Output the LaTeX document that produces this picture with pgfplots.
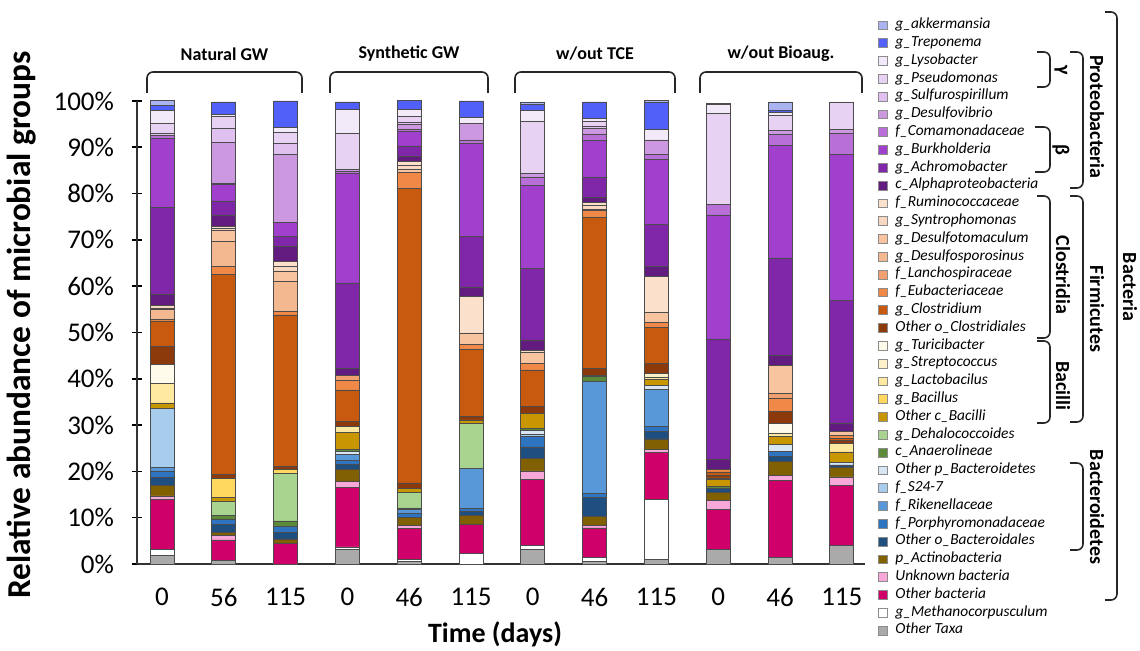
\documentclass[border=0pt]{standalone}
\usepackage{pgfplots}
\usepackage{pgfplotstable}
\usepackage{fontspec}
\setmainfont{Carlito}
\pgfplotsset{compat=1.18}

\definecolor{cAkk}{HTML}{AAB4F0}
\definecolor{cTre}{HTML}{5060F8}
\definecolor{cLys}{HTML}{F3EAF9}
\definecolor{cPse}{HTML}{E8D2F3}
\definecolor{cSul}{HTML}{E0C0EE}
\definecolor{cDvb}{HTML}{CC99E0}
\definecolor{cCom}{HTML}{B870D8}
\definecolor{cBur}{HTML}{A040CC}
\definecolor{cAch}{HTML}{8026A8}
\definecolor{cAlp}{HTML}{621C80}
\definecolor{cRum}{HTML}{FBE0CC}
\definecolor{cSyn}{HTML}{F8D8C0}
\definecolor{cDtm}{HTML}{F8C4A0}
\definecolor{cDsp}{HTML}{F4B890}
\definecolor{cLan}{HTML}{F0A070}
\definecolor{cEub}{HTML}{F08848}
\definecolor{cClo}{HTML}{C85A10}
\definecolor{cOCl}{HTML}{8C3A0C}
\definecolor{cTur}{HTML}{FFFBEA}
\definecolor{cStr}{HTML}{FDF0C8}
\definecolor{cLac}{HTML}{FFE8A0}
\definecolor{cBac}{HTML}{FFD860}
\definecolor{cOBa}{HTML}{C89600}
\definecolor{cDeh}{HTML}{A8D490}
\definecolor{cAna}{HTML}{5A8A3A}
\definecolor{cOBac}{HTML}{D8E6F4}
\definecolor{cS24}{HTML}{A8CCEC}
\definecolor{cRik}{HTML}{5898D8}
\definecolor{cPor}{HTML}{2E74C0}
\definecolor{cOBd}{HTML}{1F4E80}
\definecolor{cAct}{HTML}{806000}
\definecolor{cUB}{HTML}{F8A8D8}
\definecolor{cOB}{HTML}{D0006A}
\definecolor{cMeth}{HTML}{FFFFFF}
\definecolor{cOT}{HTML}{AAAAAA}

\pgfplotstableread{
x OT Meth OB UB Act OBd Por Rik S24 OBac Ana Deh OBa Bac Lac Str Tur OCl Clo Eub Lan Dsp Dtm Syn Rum Alp Ach Bur Com Dvb Sul Pse Lys Tre Akk
0 1.8 1.3 10.9 0.7 2.2 1.8 1.4 0.7 12.8 0 0 0 1.2 0 4.2 0 4.1 3.8 5.6 0.3 0 2.1 0.4 0.5 0 2.4 18.9 14.9 0.5 0 0.5 2.2 2.7 1.2 1.0
1 0.7 0 4.5 0.9 0.7 1.8 1.1 0 0 0 0.7 3.1 0.9 4.1 0 0 0 0.8 43.3 1.6 0 5.4 2.5 0.4 0.4 2.3 3.2 3.6 0.3 8.8 2.9 2.6 0.5 2.7 0
2 0 0 4.5 0 0.9 1.4 1.4 0 0 0 1.1 10.2 0 0.9 0 0 0 0.6 32.8 0.7 0 6.6 2.2 0.9 1.1 3.2 2.2 3.0 0 14.7 2.4 2.5 0.9 5.8 0
3 3.2 0.5 12.8 1.3 2.7 1.0 0.8 1.3 0 0.8 0.4 0 3.6 0 1.3 0 0 1.1 6.8 2.0 1.1 0 0 0 0 1.6 18.4 23.6 0.4 0.5 0 7.9 5.0 1.7 0
4 0.5 0.5 6.7 0.7 1.7 0 0.9 0.7 0 0 0.4 3.4 0.8 0 0 0 0 1.2 63.6 3.4 0 0 0.8 0.8 0.8 1.1 2.3 3.1 0.4 1.2 0.4 1.2 1.5 2.1 0
5 0 2.3 6.3 0 1.8 0.9 0.7 8.6 0 0 0 9.8 0.7 0 0 0 0 0.7 14.5 1.1 0 0 2.5 0 7.9 1.9 11.0 20.2 0.7 3.6 0 0 1.2 3.6 0
6 3.2 0.9 14.2 1.8 2.7 2.5 2.2 0 0.4 0.9 0.4 0 3.4 0 0 0 0 1.4 7.9 1.4 0 0 2.5 0 0.4 2.2 15.5 17.9 1.8 0.8 0 11.1 2.4 1.3 0.6
7 0.6 0.9 6.3 0.6 1.9 4.0 0.9 24.3 0 0 1.0 0 0.3 0 0 0 0 1.4 32.6 1.6 0 0 0.3 0.7 0.7 1.1 4.3 8.0 1.4 1.1 0.6 0.9 0.7 3.6 0
8 0.9 13.0 10.2 0.7 2.2 1.7 1.1 7.9 0 0.9 0 0 1.2 0 0.6 0.7 0 2.2 7.8 1.0 0 0 2.2 0 7.8 2.2 9.1 14.0 1.1 3.1 0 0 2.2 5.8 0.5
9 3.2 0 8.6 1.9 1.8 0.8 0 0 0 0 0.4 0 1.6 0.3 0 0 0 0.6 0.7 0.6 0 0 0 0 0 2.2 25.9 26.8 2.2 0 0 19.7 1.9 0.3 0
10 1.4 0 16.7 1.1 3.0 1.0 1.2 0 0 1.4 0 0 1.8 0 0.7 0 2.0 2.7 0 2.7 1.1 0 6.1 0 0 2.2 21.0 24.3 2.3 0.9 0 3.2 0.7 0.4 1.9
11 4.0 0 13.0 1.8 2.0 0.6 0 0 0 0.6 0 0 2.2 0 1.9 0 0 0.5 0.6 0.6 0 0 0.8 0 0 1.8 26.6 31.4 4.6 0.8 0 6.0 0 0 0
}\data

\begin{document}
\begin{tikzpicture}
\begin{axis}[
  scale only axis,
  width=364pt, height=231.5pt,
  at={(0pt,0pt)}, anchor=south west,
  ybar stacked, bar width=12pt,
  xmin=-0.405, xmax=11.375, ymin=0, ymax=100,
  clip=false,
  axis x line=bottom, axis y line=left,
  axis line style={-, line width=0.9pt, black!80},
  tick align=center,
  major tick length=5pt,
  ytick={0,10,...,100},
  yticklabel={\pgfmathprintnumber{\tick}\%},
  xtick={0,...,11},
  xticklabels={0,56,115,0,46,115,0,46,115,0,46,115},
  xtick style={draw=none},
  ytick style={line width=0.8pt, black},
  /pgf/number format/assume math mode=true,
  yticklabel style={font=\fontsize{13.5}{15}\selectfont, xshift=-5.5pt},
  xticklabel style={font=\fontsize{13.5}{15}\selectfont, yshift=-6pt},
  ylabel={\textbf{Relative abundance of microbial groups}},
  ylabel style={font=\fontsize{16.7}{18}\selectfont, at={(axis description cs:-0.158,0.516)}, anchor=center},
  xlabel={\textbf{Time (days)}},
  xlabel style={font=\fontsize{14}{16}\selectfont, at={(axis description cs:0.4918,-0.151)}, anchor=center},
  legend image code/.code={\draw[#1,draw=black!45,line width=0.3pt] (0pt,-2.2pt) rectangle (4.4pt,2.2pt);},
  reverse legend,
  legend cell align=left,
  legend style={draw=none, fill=none, inner sep=0pt,
    font=\fontsize{7.7}{8.9}\selectfont\itshape,
    at={(axis description cs:1.0179,1.1836)}, anchor=north west,
    row sep=0pt, column sep=3.2pt,
    nodes={inner sep=0.6pt, text height=5.6pt, text depth=2.1pt}},
  every axis plot/.append style={draw=black!70, line width=0.35pt},
]
\addplot[fill=cOT] table[x=x,y=OT]{\data}; \addlegendentry{Other Taxa}
\addplot[fill=cMeth] table[x=x,y=Meth]{\data}; \addlegendentry{g\_Methanocorpusculum}
\addplot[fill=cOB] table[x=x,y=OB]{\data}; \addlegendentry{Other bacteria}
\addplot[fill=cUB] table[x=x,y=UB]{\data}; \addlegendentry{Unknown bacteria}
\addplot[fill=cAct] table[x=x,y=Act]{\data}; \addlegendentry{p\_Actinobacteria}
\addplot[fill=cOBd] table[x=x,y=OBd]{\data}; \addlegendentry{Other o\_Bacteroidales}
\addplot[fill=cPor] table[x=x,y=Por]{\data}; \addlegendentry{f\_Porphyromonadaceae}
\addplot[fill=cRik] table[x=x,y=Rik]{\data}; \addlegendentry{f\_Rikenellaceae}
\addplot[fill=cS24] table[x=x,y=S24]{\data}; \addlegendentry{f\_S24-7}
\addplot[fill=cOBac] table[x=x,y=OBac]{\data}; \addlegendentry{Other p\_Bacteroidetes}
\addplot[fill=cAna] table[x=x,y=Ana]{\data}; \addlegendentry{c\_Anaerolineae}
\addplot[fill=cDeh] table[x=x,y=Deh]{\data}; \addlegendentry{g\_Dehalococcoides}
\addplot[fill=cOBa] table[x=x,y=OBa]{\data}; \addlegendentry{Other c\_Bacilli}
\addplot[fill=cBac] table[x=x,y=Bac]{\data}; \addlegendentry{g\_Bacillus}
\addplot[fill=cLac] table[x=x,y=Lac]{\data}; \addlegendentry{g\_Lactobacilus}
\addplot[fill=cStr] table[x=x,y=Str]{\data}; \addlegendentry{g\_Streptococcus}
\addplot[fill=cTur] table[x=x,y=Tur]{\data}; \addlegendentry{g\_Turicibacter}
\addplot[fill=cOCl] table[x=x,y=OCl]{\data}; \addlegendentry{Other o\_Clostridiales}
\addplot[fill=cClo] table[x=x,y=Clo]{\data}; \addlegendentry{g\_Clostridium}
\addplot[fill=cEub] table[x=x,y=Eub]{\data}; \addlegendentry{f\_Eubacteriaceae}
\addplot[fill=cLan] table[x=x,y=Lan]{\data}; \addlegendentry{f\_Lanchospiraceae}
\addplot[fill=cDsp] table[x=x,y=Dsp]{\data}; \addlegendentry{g\_Desulfosporosinus}
\addplot[fill=cDtm] table[x=x,y=Dtm]{\data}; \addlegendentry{g\_Desulfotomaculum}
\addplot[fill=cSyn] table[x=x,y=Syn]{\data}; \addlegendentry{g\_Syntrophomonas}
\addplot[fill=cRum] table[x=x,y=Rum]{\data}; \addlegendentry{f\_Ruminococcaceae}
\addplot[fill=cAlp] table[x=x,y=Alp]{\data}; \addlegendentry{c\_Alphaproteobacteria}
\addplot[fill=cAch] table[x=x,y=Ach]{\data}; \addlegendentry{g\_Achromobacter}
\addplot[fill=cBur] table[x=x,y=Bur]{\data}; \addlegendentry{g\_Burkholderia}
\addplot[fill=cCom] table[x=x,y=Com]{\data}; \addlegendentry{f\_Comamonadaceae}
\addplot[fill=cDvb] table[x=x,y=Dvb]{\data}; \addlegendentry{g\_Desulfovibrio}
\addplot[fill=cSul] table[x=x,y=Sul]{\data}; \addlegendentry{g\_Sulfurospirillum}
\addplot[fill=cPse] table[x=x,y=Pse]{\data}; \addlegendentry{g\_Pseudomonas}
\addplot[fill=cLys] table[x=x,y=Lys]{\data}; \addlegendentry{g\_Lysobacter}
\addplot[fill=cTre] table[x=x,y=Tre]{\data}; \addlegendentry{g\_Treponema}
\addplot[fill=cAkk] table[x=x,y=Akk]{\data}; \addlegendentry{g\_akkermansia}
\end{axis}
\begin{scope}[x=0.5pt,y=-0.5pt,shift={(-68.5pt,282pt)}]
  % group brackets
  \foreach \a/\b/\lab in {147/302/Natural GW, 330/488/Synthetic GW, 515/675/w\slash out TCE, 700/862/w\slash out Bioaug.}{
    \draw[line width=0.8pt, black!85, rounded corners=3pt] (\a,93) -- (\a,72) -- (\b,72) -- (\b,93);
    \node[font=\fontsize{9}{10}\selectfont\bfseries] at ({(\a+\b)/2},54) {\lab};
  }
  % right brackets
  \tikzset{brk/.style={line width=0.8pt, black!85, rounded corners=3pt}}
  \draw[brk] (1037,52) -- (1050,52) -- (1050,87) -- (1037,87);
  \draw[brk] (1035,127) -- (1050,127) -- (1050,172) -- (1035,172);
  \draw[brk] (1070,52) -- (1083,52) -- (1083,188) -- (1070,188);
  \draw[brk] (1037,196) -- (1050,196) -- (1050,338) -- (1037,338);
  \draw[brk] (1037,341) -- (1050,341) -- (1050,423) -- (1037,423);
  \draw[brk] (1070,196) -- (1083,196) -- (1083,422) -- (1070,422);
  \draw[brk] (1070,463) -- (1083,463) -- (1083,550) -- (1070,550);
  \draw[brk] (1105,12) -- (1117,12) -- (1117,600) -- (1105,600);
  \tikzset{blab/.style={rotate=-90, font=\fontsize{10}{12}\selectfont\bfseries, anchor=center}}
  \node[blab] at (1097,117) {Proteobacteria};
  \node[blab] at (1061,70) {γ};
  \node[blab] at (1061,150) {β};
  \node[blab] at (1063,275) {Clostridia};
  \node[blab] at (1097,309) {Firmicutes};
  \node[blab] at (1063,386) {Bacilli};
  \node[blab] at (1097,507) {Bacteroidetes};
  \node[blab] at (1130,287) {Bacteria};
\end{scope}
\pgfresetboundingbox
\path[use as bounding box] (-68.5pt,-43.5pt) rectangle (501.5pt,282pt);
\end{tikzpicture}
\end{document}
